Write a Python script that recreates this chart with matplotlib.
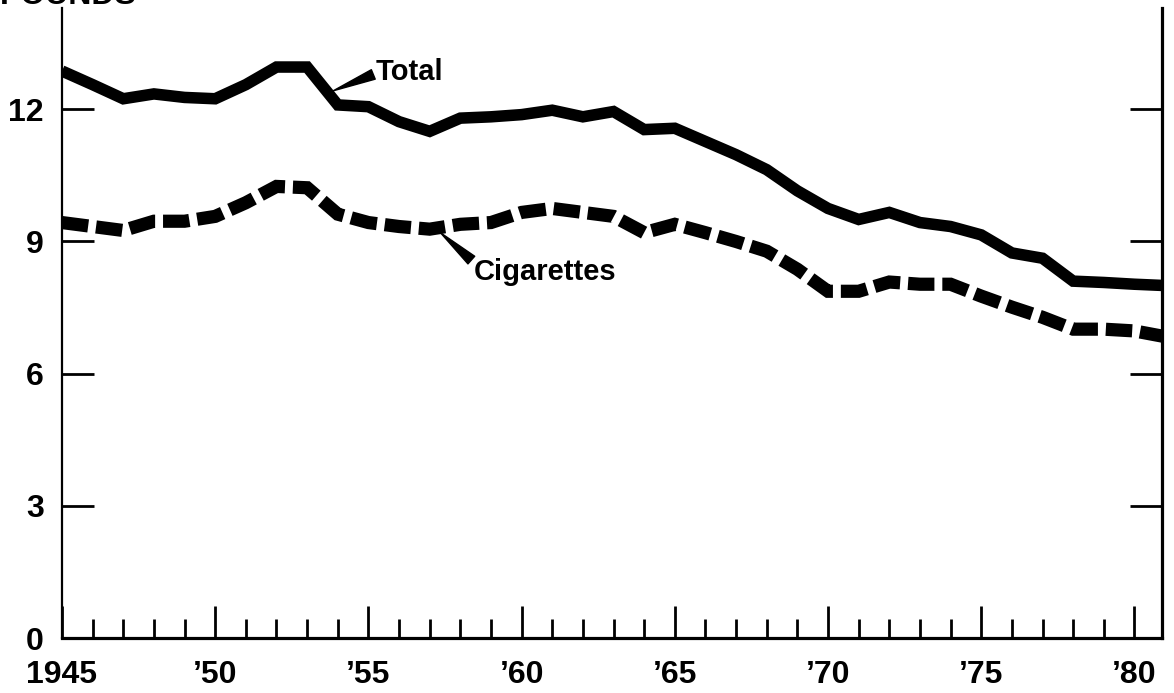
import numpy as np
import matplotlib
matplotlib.use("Agg")
import matplotlib.pyplot as plt
from matplotlib.ticker import MultipleLocator

plt.rcParams['font.family'] = ['Liberation Sans', 'DejaVu Sans']

# per-capita consumption, pounds
years = list(range(1945, 1982))
total = [12.87, 12.56, 12.24, 12.35, 12.27, 12.24, 12.56, 12.96, 12.96, 12.10,
         12.06, 11.72, 11.50, 11.80, 11.83, 11.88, 11.98, 11.83, 11.95, 11.54,
         11.57, 11.27, 10.97, 10.63, 10.15, 9.75, 9.50, 9.66, 9.43, 9.34,
         9.15, 8.74, 8.62, 8.10, 8.07, 8.03, 8.00]
cigarettes = [9.43, 9.34, 9.25, 9.46, 9.46, 9.57, 9.88, 10.25, 10.22, 9.62,
              9.43, 9.34, 9.28, 9.39, 9.43, 9.66, 9.75, 9.66, 9.57, 9.20,
              9.39, 9.20, 9.00, 8.78, 8.37, 7.87, 7.87, 8.08, 8.03, 8.03,
              7.76, 7.51, 7.28, 7.01, 7.01, 6.97, 6.84]

xticks = [1945, 1950, 1955, 1960, 1965, 1970, 1975, 1980]
xlabels = ["1945", "\u201950", "\u201955", "\u201960", "\u201965", "\u201970", "\u201975", "\u201980"]
yticks = [0, 3, 6, 9, 12]

fig = plt.figure(figsize=(11.74, 6.93), dpi=100)
ax = fig.add_axes([62 / 1174, 1 - 638 / 693, (1162 - 62) / 1174, (638 - 8) / 693])

ax.plot(years, total, color="black", lw=8.3, solid_joinstyle="miter", solid_capstyle="butt")
ax.plot(years, cigarettes, color="black", lw=9.5, dashes=(2.0, 0.6),
        dash_capstyle="butt", dash_joinstyle="miter")

ax.set_xlim(1945, 1980.9)
ax.set_ylim(0, 14.3)

ax.spines["top"].set_visible(False)
ax.spines["left"].set_linewidth(1.6)
ax.spines["bottom"].set_linewidth(2.3)
ax.spines["right"].set_linewidth(2.3)

ax.set_xticks(xticks)
ax.set_xticklabels(xlabels)
ax.xaxis.set_minor_locator(MultipleLocator(1))
ax.set_yticks(yticks)
ax.tick_params(axis="x", which="major", direction="in", length=23, width=2, pad=16,
               labelsize=23)
ax.tick_params(axis="x", which="minor", direction="in", length=14, width=2)
ax.tick_params(axis="y", which="major", direction="in", length=23, width=2, pad=13,
               labelsize=23, right=True)
for lab in ax.get_xticklabels() + ax.get_yticklabels():
    lab.set_fontweight("bold")
# no tick mark at zero on the y axis, only the label
ax.yaxis.get_major_ticks()[0].tick1line.set_visible(False)
ax.yaxis.get_major_ticks()[0].tick2line.set_visible(False)

ax.annotate("Total", xy=(1953.85, 12.42), xytext=(1955.25, 12.85),
            fontsize=21, fontweight="bold", va="center", ha="left",
            arrowprops=dict(arrowstyle="wedge,tail_width=0.35,shrink_factor=0.5",
                            color="black", shrinkA=0, shrinkB=0, relpos=(0, 0.45)))
ax.annotate("Cigarettes", xy=(1957.35, 9.2), xytext=(1958.45, 8.3),
            fontsize=21, fontweight="bold", va="center", ha="left",
            arrowprops=dict(arrowstyle="wedge,tail_width=0.35,shrink_factor=0.5",
                            color="black", shrinkA=0, shrinkB=0, relpos=(0, 0.85)))

fig.text(0.0, 1 - 4 / 693, "POUNDS", fontsize=23, fontweight="bold",
         ha="left", va="baseline")

fig.savefig("out.png", dpi=100)
